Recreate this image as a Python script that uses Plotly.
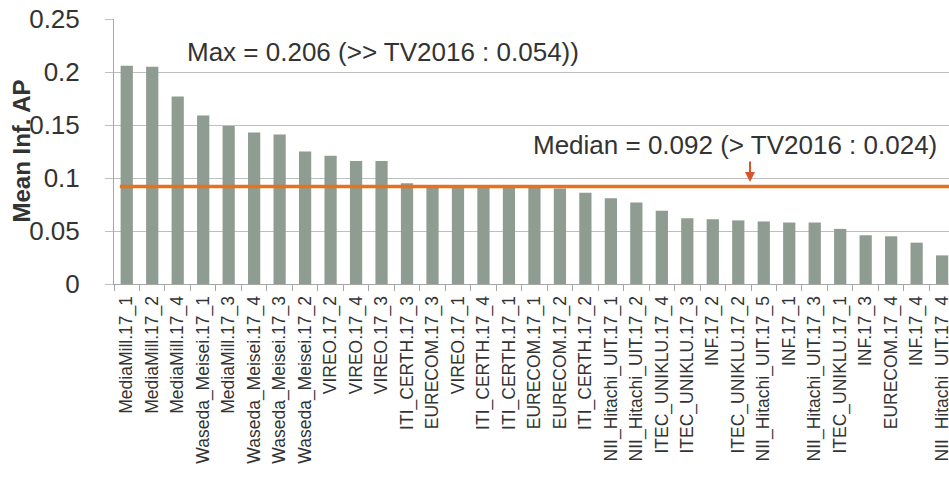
import plotly.graph_objects as go

# ---- data ----
runs = [
    "MediaMill.17_1", "MediaMill.17_2", "MediaMill.17_4", "Waseda_Meisei.17_1",
    "MediaMill.17_3", "Waseda_Meisei.17_4", "Waseda_Meisei.17_3", "Waseda_Meisei.17_2",
    "VIREO.17_2", "VIREO.17_4", "VIREO.17_3", "ITI_CERTH.17_3", "EURECOM.17_3",
    "VIREO.17_1", "ITI_CERTH.17_4", "ITI_CERTH.17_1", "EURECOM.17_1", "EURECOM.17_2",
    "ITI_CERTH.17_2", "NII_Hitachi_UIT.17_1", "NII_Hitachi_UIT.17_2", "ITEC_UNIKLU.17_4",
    "ITEC_UNIKLU.17_3", "INF.17_2", "ITEC_UNIKLU.17_2", "NII_Hitachi_UIT.17_5", "INF.17_1",
    "NII_Hitachi_UIT.17_3", "ITEC_UNIKLU.17_1", "INF.17_3", "EURECOM.17_4", "INF.17_4",
    "NII_Hitachi_UIT.17_4",
]
mean_inf_ap = [
    0.206, 0.205, 0.177, 0.159, 0.149, 0.143, 0.141, 0.125,
    0.121, 0.116, 0.116, 0.095, 0.091,
    0.091, 0.091, 0.091, 0.091, 0.090,
    0.086, 0.081, 0.077, 0.069,
    0.062, 0.061, 0.060, 0.059, 0.058,
    0.058, 0.052, 0.046, 0.045, 0.039,
    0.027,
]
median_value = 0.092
y_tick_vals = [0, 0.05, 0.1, 0.15, 0.2, 0.25]
y_tick_text = ["0", "0.05", "0.1", "0.15", "0.2", "0.25"]
max_label = "Max = 0.206 (>> TV2016 : 0.054))"
median_label = "Median = 0.092 (> TV2016 : 0.024)"
y_title = "Mean Inf. AP"

FONT = "Liberation Sans, Arial, sans-serif"
TEXT = "#333333"

fig = go.Figure()
fig.add_trace(go.Bar(
    x=runs, y=mean_inf_ap, width=0.48,
    marker=dict(color="#8e9c92", line=dict(width=0)),
    hoverinfo="x+y",
))

fig.add_shape(type="line", xref="x", yref="y", x0=-0.27, x1=34,
              y0=median_value, y1=median_value,
              line=dict(color="#e8721c", width=3.5), layer="above")

fig.add_annotation(xref="paper", yref="y", x=(185 - 114) / 835, y=0.219,
                   xanchor="left", yanchor="middle", showarrow=False,
                   text=max_label, font=dict(family=FONT, size=26, color=TEXT))
fig.add_annotation(xref="paper", yref="y", x=(531 - 114) / 835, y=0.131,
                   xanchor="left", yanchor="middle", showarrow=False,
                   text=median_label, font=dict(family=FONT, size=26, color=TEXT))
fig.add_annotation(xref="paper", yref="y", x=(750 - 114) / 835, y=0.0962,
                   ax=0, ay=-22, text="", showarrow=True, arrowhead=2,
                   arrowsize=1, arrowwidth=2, arrowcolor="#d9532b")
fig.add_annotation(xref="paper", yref="paper", x=(21 - 114) / 835, y=0.5,
                   xanchor="center", yanchor="middle", showarrow=False,
                   textangle=-90, text="<b>" + y_title + "</b>",
                   font=dict(family=FONT, size=24, color=TEXT))

fig.update_layout(
    width=949, height=478, autosize=False,
    margin=dict(l=114, r=0, t=19, b=194, pad=0),
    paper_bgcolor="white", plot_bgcolor="white",
    showlegend=False, bargap=0.52,
    font=dict(family=FONT, color=TEXT),
)
fig.update_xaxes(
    type="category", range=[-0.5, 32.27], tickangle=-90, automargin=False,
    tickfont=dict(family=FONT, size=17.5, color=TEXT), ticklabelstandoff=4,
    ticks="outside", tickson="boundaries", ticklen=6, tickcolor="#a6a6a6",
    showline=True, linecolor="#a6a6a6", linewidth=1, showgrid=False,
)
fig.update_yaxes(
    range=[0, 0.25], tickvals=y_tick_vals, ticktext=y_tick_text, automargin=False,
    tickfont=dict(family=FONT, size=26, color=TEXT),
    ticks="outside", ticklen=8, tickcolor="#bfbfbf", ticklabelstandoff=20,
    showline=True, linecolor="#a6a6a6", linewidth=1,
    showgrid=True, gridcolor="#bfbfbf", gridwidth=1, zeroline=False,
)

fig.write_html("out.html", config={"displayModeBar": False},
               post_script="document.body.style.margin='0px';")
